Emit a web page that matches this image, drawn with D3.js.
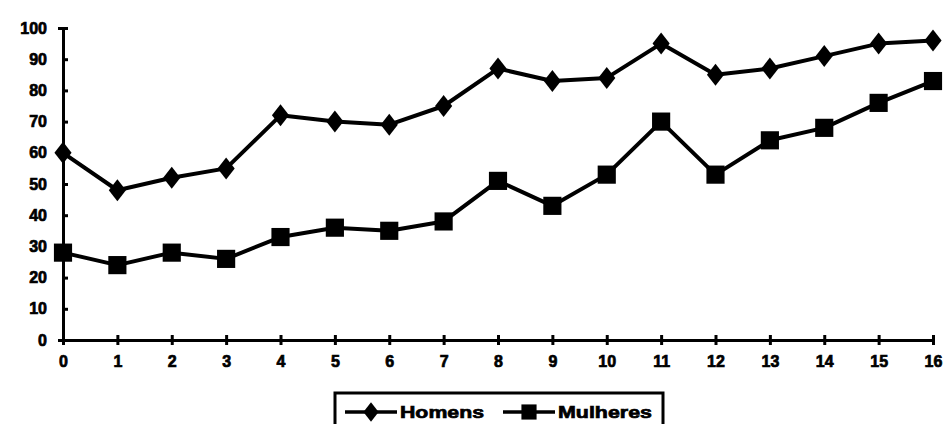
<!DOCTYPE html>
<html>
<head>
<meta charset="utf-8">
<script src="https://cdn.jsdelivr.net/npm/d3@7"></script>
<style>
  body { margin: 0; background: #fff; }
  svg { display: block; }
  text { font-family: "Liberation Sans", Arial, sans-serif; font-weight: bold; fill: #000; stroke: #000; stroke-width: 0.7px; }
</style>
</head>
<body>
<svg width="945" height="424"></svg>
<script>
const years = d3.range(0, 17);
const homens = [60, 48, 52, 55, 72, 70, 69, 75, 87, 83, 84, 95, 85, 87, 91, 95, 96];
const mulheres = [28, 24, 28, 26, 33, 36, 35, 38, 51, 43, 53, 70, 53, 64, 68, 76, 83];
const yTicks = [0, 10, 20, 30, 40, 50, 60, 70, 80, 90, 100];
const seriesNames = ["Homens", "Mulheres"];

const svg = d3.select("svg");

const x = d3.scaleLinear().domain([0, 16]).range([63, 933]);
const y = d3.scaleLinear().domain([0, 100]).range([340, 28]);

// axes
const xAxis = svg.append("g").attr("transform", "translate(0," + y(0) + ")")
  .call(d3.axisBottom(x).tickValues(years).tickSize(5).tickFormat(d3.format("d")));
xAxis.select(".domain").attr("stroke", "#000").attr("stroke-width", 3);
xAxis.selectAll(".tick line").attr("stroke", "#000").attr("stroke-width", 3).attr("y1", -5);
xAxis.selectAll(".tick text").attr("font-size", 16).attr("dy", "1.2em").style("font-weight", "bold");

const yAxis = svg.append("g").attr("transform", "translate(" + x(0) + ",0)")
  .call(d3.axisLeft(y).tickValues(yTicks).tickSize(5).tickFormat(d3.format("d")));
yAxis.select(".domain").attr("stroke", "#000").attr("stroke-width", 3);
yAxis.selectAll(".tick line").attr("stroke", "#000").attr("stroke-width", 3).attr("x2", 5);
yAxis.selectAll(".tick text").attr("font-size", 16).attr("x", -16).style("font-weight", "bold");

const line = d3.line().x((d, i) => x(years[i])).y(d => y(d));

function drawSeries(data, shape) {
  const g = svg.append("g");
  g.append("path").datum(data)
    .attr("d", line)
    .attr("fill", "none")
    .attr("stroke", "#000")
    .attr("stroke-width", 4)
    .attr("stroke-linejoin", "round");
  const isSq = shape === d3.symbolSquare;
  g.selectAll("path.m").data(data).enter().append("path")
    .attr("class", "m")
    .attr("d", d3.symbol().type(shape).size(isSq ? 330 : 140))
    .attr("transform", (d, i) => "translate(" + x(years[i]) + "," + y(d) + ")" + (isSq ? "" : " scale(1.35,1)"))
    .attr("fill", "#000");
}

drawSeries(homens, d3.symbolDiamond);
drawSeries(mulheres, d3.symbolSquare);

// legend
const leg = svg.append("g");
leg.append("rect")
  .attr("x", 335).attr("y", 393).attr("width", 328).attr("height", 40)
  .attr("fill", "none").attr("stroke", "#000").attr("stroke-width", 3);

const legItems = [
  { name: seriesNames[0], shape: d3.symbolDiamond, x0: 345, size: 110, sx: 1.35, len: 84 },
  { name: seriesNames[1], shape: d3.symbolSquare, x0: 503, size: 230, sx: 1, len: 94 }
];
legItems.forEach(it => {
  leg.append("line")
    .attr("x1", it.x0).attr("x2", it.x0 + 52)
    .attr("y1", 412).attr("y2", 412)
    .attr("stroke", "#000").attr("stroke-width", 3.5);
  leg.append("path")
    .attr("d", d3.symbol().type(it.shape).size(it.size))
    .attr("transform", "translate(" + (it.x0 + 26) + ",412) scale(" + it.sx + ",1)")
    .attr("fill", "#000");
  leg.append("text")
    .attr("x", it.x0 + 55).attr("y", 418)
    .attr("font-size", 17)
    .attr("textLength", it.len)
    .attr("lengthAdjust", "spacingAndGlyphs")
    .text(it.name);
});
</script>
</body>
</html>
